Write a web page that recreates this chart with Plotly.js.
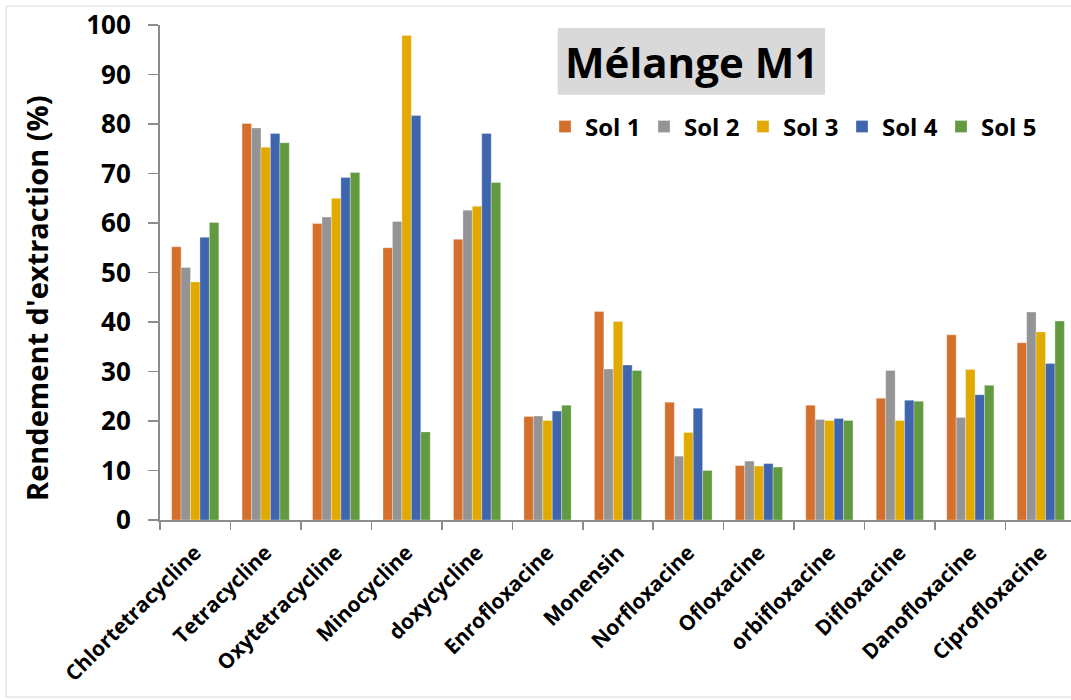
<!DOCTYPE html>
<html>
<head>
<meta charset="utf-8">
<script src="https://cdn.plot.ly/plotly-3.0.1.min.js"></script>
<style>html,body{margin:0;padding:0;background:#fff;}#chart{width:1071px;height:700px;}</style>
</head>
<body>
<div id="chart"></div>
<script>
var categories = ["Chlortetracycline","Tetracycline","Oxytetracycline","Minocycline","doxycycline","Enrofloxacine","Monensin","Norfloxacine","Ofloxacine","orbifloxacine","Difloxacine","Danofloxacine","Ciprofloxacine"];
var seriesNames = ["Sol 1","Sol 2","Sol 3","Sol 4","Sol 5"];
var sol1 = [55.2, 80.1, 59.9, 55.0, 56.7, 20.9, 42.1, 23.8, 11.0, 23.2, 24.6, 37.4, 35.8];
var sol2 = [51.0, 79.2, 61.2, 60.3, 62.6, 21.0, 30.5, 12.9, 11.9, 20.3, 30.2, 20.7, 42.0];
var sol3 = [48.1, 75.3, 65.0, 97.9, 63.4, 20.1, 40.1, 17.7, 10.9, 20.1, 20.1, 30.4, 38.0];
var sol4 = [57.1, 78.1, 69.2, 81.7, 78.1, 22.0, 31.3, 22.6, 11.4, 20.5, 24.2, 25.3, 31.6];
var sol5 = [60.1, 76.2, 70.2, 17.8, 68.2, 23.2, 30.2, 10.0, 10.7, 20.1, 24.0, 27.2, 40.2];
var yTicks = [0,10,20,30,40,50,60,70,80,90,100];
var colors = ["#D46F2C","#949494","#E2AA00","#3E65AE","#629A3F"];
var chartTitle = "Mélange M1";
var yTitle = "Rendement d'extraction (%)";

var W = 1071, H = 700;
var mL = 160, mR = 0, mT = 25, mB = 180;
var pw = W - mL - mR, ph = H - mT - mB;
function px(x){ return (x - mL) / pw; }
function py(y){ return 1 - (y - mT) / ph; }

var allSeries = [sol1, sol2, sol3, sol4, sol5];
var traces = allSeries.map(function(vals, i){
  return {
    type: "bar", name: seriesNames[i], x: categories, y: vals,
    marker: {color: colors[i], line: {color: "rgba(255,255,255,0.6)", width: 0.5}},
    hoverinfo: "x+y+name"
  };
});

var FONT = "Open Sans, Liberation Sans, sans-serif";
var layout = {
  width: W, height: H, autosize: false,
  margin: {l: mL, r: mR, t: mT, b: mB, pad: 0},
  paper_bgcolor: "#fff", plot_bgcolor: "#fff",
  barmode: "group", bargap: 0.33, bargroupgap: 0,
  showlegend: true,
  legend: {
    orientation: "h", x: px(545), xanchor: "left", y: py(127), yanchor: "middle",
    font: {family: FONT, size: 24, color: "#000", weight: "bold"},
    entrywidth: 54, entrywidthmode: "pixels", itemwidth: 30,
    bgcolor: "rgba(0,0,0,0)", traceorder: "normal"
  },
  xaxis: {
    type: "category", range: [-0.5, 12.5 - 5/70.4], fixedrange: true,
    showline: true, linecolor: "#8c8c8c", linewidth: 2,
    ticks: "outside", ticklen: 8, tickcolor: "#8c8c8c", tickwidth: 1.5,
    tickson: "boundaries", tickangle: -45, ticklabelstandoff: 10,
    tickfont: {family: FONT, size: 21, color: "#000", weight: "bold"},
    showgrid: false, zeroline: false
  },
  yaxis: {
    range: [0, 100], tickvals: yTicks, fixedrange: true,
    showline: true, linecolor: "#8c8c8c", linewidth: 2,
    ticks: "outside", ticklen: 10, tickcolor: "#8c8c8c", tickwidth: 1.5,
    ticklabelstandoff: 12,
    tickfont: {family: FONT, size: 26, color: "#000", weight: "bold"},
    showgrid: false, zeroline: false
  },
  shapes: [
    {type: "rect", xref: "paper", yref: "paper", x0: px(6), x1: px(1090), y0: py(697), y1: py(6),
     line: {color: "#d9d9d9", width: 1}, fillcolor: "rgba(0,0,0,0)", layer: "below"},
    {type: "rect", xref: "paper", yref: "paper", x0: px(557.7), x1: px(825), y0: py(94.7), y1: py(28),
     line: {width: 0}, fillcolor: "#d9d9d9", layer: "below"}
  ],
  annotations: [
    {xref: "paper", yref: "paper", x: px(691.5), y: py(61.5), xanchor: "center", yanchor: "middle",
     text: chartTitle, showarrow: false,
     font: {family: FONT, size: 42, color: "#000", weight: "bold"}},
    {xref: "paper", yref: "paper", x: px(36), y: py(298), xanchor: "center", yanchor: "middle",
     text: yTitle, showarrow: false, textangle: -90,
     font: {family: FONT, size: 29, color: "#000", weight: "bold"}}
  ]
};

Plotly.newPlot("chart", traces, layout, {displayModeBar: false, staticPlot: true});
</script>
</body>
</html>
